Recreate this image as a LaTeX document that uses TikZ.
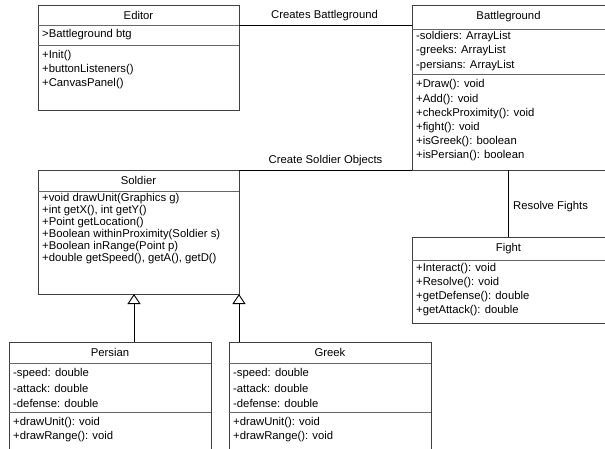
\documentclass[tikz,border=0pt]{standalone}
\usepackage{fontspec}
\setmainfont{Liberation Sans}
\usetikzlibrary{arrows.meta}
\begin{document}
\begin{tikzpicture}[x=1pt,y=-1pt,
  cls/.style={draw=black!75, line width=0.9pt, anchor=north west, inner sep=0pt, outer sep=0pt},
  sepline/.style={draw=black!60, line width=0.9pt},
  txt/.style={anchor=west, inner sep=0pt, font=\fontsize{11.3}{13}\selectfont},
  ttl/.style={anchor=center, inner sep=0pt, font=\fontsize{11.3}{13}\selectfont},
  conn/.style={draw=black, line width=0.9pt},
  inh/.style={conn, -{Triangle[width=13pt, length=10pt, fill=white]}},
]
\useasboundingbox (0,0) rectangle (605,448);

% Editor
\node[cls, minimum width=201pt, minimum height=105pt] (editor) at (38,5) {};
\draw[sepline] (38,25) -- (239,25);
\draw[sepline] (38,45) -- (239,45);
\node[ttl] (editorT) at (138.5,15) {Editor};
\node[txt] (editorA1) at (42,35) {>Battleground btg};
\node[txt] (editorM1) at (42,55.5) {+Init()};
\node[txt] (editorM2) at (42,69.5) {+buttonListeners()};
\node[txt] (editorM3) at (42,83.5) {+CanvasPanel()};

% Battleground
\node[cls, minimum width=193.5pt, minimum height=165pt] (battle) at (412,5) {};
\draw[sepline] (412,29) -- (606,29);
\draw[sepline] (412,74) -- (606,74);
\node[ttl] (battleT) at (508.5,17) {Battleground};
\node[txt] (battleA1) at (416,36.5) {-soldiers: ArrayList};
\node[txt] (battleA2) at (416,51) {-greeks: ArrayList};
\node[txt] (battleA3) at (416,65.5) {-persians: ArrayList};
\node[txt] (battleM1) at (416,85) {+Draw(): void};
\node[txt] (battleM2) at (416,99.2) {+Add(): void};
\node[txt] (battleM3) at (416,113.4) {+checkProximity(): void};
\node[txt] (battleM4) at (416,127.6) {+fight(): void};
\node[txt] (battleM5) at (416,141.8) {+isGreek(): boolean};
\node[txt] (battleM6) at (416,156) {+isPersian(): boolean};

% Soldier
\node[cls, minimum width=201pt, minimum height=124pt] (soldier) at (38,170) {};
\draw[sepline] (38,191) -- (239,191);
\node[ttl] (soldierT) at (138.5,180.5) {Soldier};
\node[txt] (soldierM1) at (42,198.5) {+void drawUnit(Graphics g)};
\node[txt] (soldierM2) at (42,210.5) {+int getX(), int getY()};
\node[txt] (soldierM3) at (42,222.5) {+Point getLocation()};
\node[txt] (soldierM4) at (42,234.5) {+Boolean withinProximity(Soldier s)};
\node[txt] (soldierM5) at (42,246.5) {+Boolean inRange(Point p)};
\node[txt] (soldierM6) at (42,258.5) {+double getSpeed(), getA(), getD()};

% Fight
\node[cls, minimum width=193.5pt, minimum height=86pt] (fight) at (412,237) {};
\draw[sepline] (412,260) -- (606,260);
\node[ttl] (fightT) at (508.5,248.5) {Fight};
\node[txt] (fightM1) at (416,268.3) {+Interact(): void};
\node[txt] (fightM2) at (416,282.5) {+Resolve(): void};
\node[txt] (fightM3) at (416,296.7) {+getDefense(): double};
\node[txt] (fightM4) at (416,311) {+getAttack(): double};

% Persian
\node[cls, minimum width=202pt, minimum height=120pt] (persian) at (9,342) {};
\draw[sepline] (9,363) -- (211,363);
\draw[sepline] (9,412) -- (211,412);
\node[ttl] (persianT) at (110,352.5) {Persian};
\node[txt] (persianA1) at (13,373.5) {-speed: double};
\node[txt] (persianA2) at (13,388.3) {-attack: double};
\node[txt] (persianA3) at (13,403) {-defense: double};
\node[txt] (persianM1) at (13,422.5) {+drawUnit(): void};
\node[txt] (persianM2) at (13,436.7) {+drawRange(): void};

% Greek
\node[cls, minimum width=202pt, minimum height=120pt] (greek) at (229,342) {};
\draw[sepline] (229,363) -- (431,363);
\draw[sepline] (229,412) -- (431,412);
\node[ttl] (greekT) at (330,352.5) {Greek};
\node[txt] (greekA1) at (233,373.5) {-speed: double};
\node[txt] (greekA2) at (233,388.3) {-attack: double};
\node[txt] (greekA3) at (233,403) {-defense: double};
\node[txt] (greekM1) at (233,422.5) {+drawUnit(): void};
\node[txt] (greekM2) at (233,436.7) {+drawRange(): void};

% Connectors
\draw[conn] ([yshift=-20pt]editor.north east) -- ([yshift=-20pt]editor.north east -| battle.west);
\node[ttl] (lblCreates) at (324.5,15.5) {Creates Battleground};
\draw[conn] (soldier.north east) -- (battle.south west);
\node[ttl] (lblSoldiers) at (325.5,161) {Create Soldier Objects};
\draw[conn] (battle.south) -- (fight.north);
\node[txt] (lblResolve) at (513,207) {Resolve Fights};
\coordinate (pa) at (134,0);
\draw[inh] (pa |- persian.north) -- (pa |- soldier.south);
\draw[inh] (soldier.south east |- greek.north) -- (soldier.south east);
\end{tikzpicture}
\end{document}
